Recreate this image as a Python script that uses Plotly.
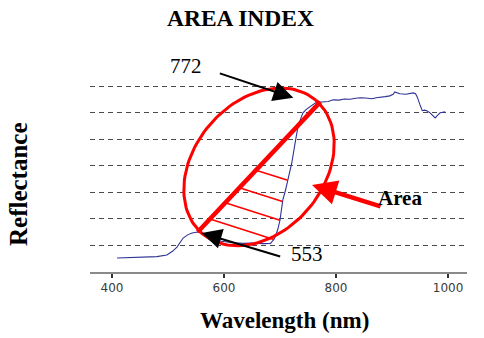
import math
import plotly.graph_objects as go

# Canopy reflectance spectrum (wavelength in nm, reflectance as fraction)
wavelength = [409, 430, 455, 480, 498, 508, 516, 522, 527, 535,
              543, 553, 562, 571, 580, 595, 616, 635, 652, 670,
              683, 690, 696, 700, 705, 710, 714, 721, 727, 732,
              737, 741, 747, 754, 760, 766, 775, 786, 795, 805,
              815, 825, 835, 843, 853, 864, 872, 879, 888, 896,
              902, 905, 909, 914, 925, 933, 938, 942, 945, 950,
              954, 958, 962, 968, 973, 977, 982, 986, 995]
reflectance = [0.053, 0.054, 0.056, 0.058, 0.064, 0.078, 0.094, 0.112, 0.128, 0.140,
               0.147, 0.151, 0.146, 0.135, 0.124, 0.116, 0.110, 0.108, 0.109, 0.107,
               0.108, 0.125, 0.160, 0.196, 0.272, 0.310, 0.347, 0.411, 0.487, 0.547,
               0.578, 0.600, 0.613, 0.623, 0.634, 0.642, 0.641, 0.643, 0.649, 0.648,
               0.652, 0.651, 0.655, 0.657, 0.656, 0.653, 0.657, 0.660, 0.661, 0.664,
               0.670, 0.679, 0.676, 0.672, 0.670, 0.672, 0.675, 0.672, 0.660, 0.630,
               0.608, 0.610, 0.608, 0.600, 0.590, 0.581, 0.592, 0.600, 0.604]

# Wavelengths bounding the area (green peak and red-edge shoulder)
green_peak = 553
red_shoulder = 772

x_ticks = [400, 600, 800, 1000]
grid_levels = [0.1, 0.2, 0.3, 0.4, 0.5, 0.6, 0.7]

# Figure geometry
W, H = 484, 338
ML, MR, MT, MB = 90, 17, 81, 66
X_RANGE = [360.7, 1033.9]
Y_RANGE = [0.0, 0.72]
PW, PH = W - ML - MR, H - MT - MB
XS = PW / (X_RANGE[1] - X_RANGE[0])   # px per nm
YS = PH / (Y_RANGE[1] - Y_RANGE[0])   # px per reflectance unit

RED = "#ff0000"
SERIF = "Liberation Serif"


def interp(x, xs, ys):
    for i in range(len(xs) - 1):
        if xs[i] <= x <= xs[i + 1]:
            f = (x - xs[i]) / (xs[i + 1] - xs[i])
            return ys[i] + f * (ys[i + 1] - ys[i])
    return ys[-1]


def to_px(x, y):
    return (x - X_RANGE[0]) * XS, (y - Y_RANGE[0]) * YS


def from_px(px, py):
    return px / XS + X_RANGE[0], py / YS + Y_RANGE[0]


def paper(xp, yp):
    # screen pixel position -> paper coordinates
    return (xp - ML) / PW, (H - MB - yp) / PH


r_a = interp(green_peak, wavelength, reflectance)
r_b = interp(red_shoulder, wavelength, reflectance)
ax_, ay_ = to_px(green_peak, r_a)
bx_, by_ = to_px(red_shoulder, r_b)

# Ellipse around the chord (pixel space, y up)
cx, cy = (ax_ + bx_) / 2, (ay_ + by_) / 2
semi_a = math.hypot(bx_ - ax_, by_ - ay_) / 2 * 0.98
semi_b = semi_a * 0.74
theta = math.atan2(by_ - ay_, bx_ - ax_) + math.radians(3)
ell_x, ell_y = [], []
for k in range(121):
    t = 2 * math.pi * k / 120
    ex = semi_a * math.cos(t)
    ey = semi_b * math.sin(t)
    px = cx + ex * math.cos(theta) - ey * math.sin(theta)
    py = cy + ex * math.sin(theta) + ey * math.cos(theta)
    dx, dy = from_px(px, py)
    ell_x.append(dx)
    ell_y.append(dy)

# Hatch lines from the chord down to the spectrum
curve_px = [to_px(x, y) for x, y in zip(wavelength, reflectance)]
hatch_x, hatch_y = [], []
for frac in [0.1, 0.225, 0.34, 0.475]:
    sx, sy = ax_ + frac * (bx_ - ax_), ay_ + frac * (by_ - ay_)
    dxr, dyr = 1.0, -0.32
    best = None
    for (x1, y1), (x2, y2) in zip(curve_px[:-1], curve_px[1:]):
        ex, ey = x2 - x1, y2 - y1
        den = dxr * (-ey) - dyr * (-ex)
        if abs(den) < 1e-9:
            continue
        rx, ry = x1 - sx, y1 - sy
        s = (rx * (-ey) - ry * (-ex)) / den
        u = (dxr * ry - dyr * rx) / den
        if s > 1 and 0 <= u <= 1 and (best is None or s < best):
            best = s
    if best is None:
        continue
    p0 = from_px(sx, sy)
    p1 = from_px(sx + best * dxr, sy + best * dyr)
    hatch_x += [p0[0], p1[0], None]
    hatch_y += [p0[1], p1[1], None]

fig = go.Figure()
fig.add_trace(go.Scatter(x=wavelength, y=reflectance, mode="lines",
                         line=dict(color="#2f3296", width=1.1),
                         hoverinfo="skip", showlegend=False))
fig.add_trace(go.Scatter(x=hatch_x, y=hatch_y, mode="lines",
                         line=dict(color=RED, width=1.6),
                         hoverinfo="skip", showlegend=False))
fig.add_trace(go.Scatter(x=ell_x, y=ell_y, mode="lines",
                         line=dict(color=RED, width=3),
                         hoverinfo="skip", showlegend=False))
fig.add_trace(go.Scatter(x=[green_peak, red_shoulder], y=[r_a, r_b], mode="lines",
                         line=dict(color=RED, width=4.5),
                         hoverinfo="skip", showlegend=False))

annotations = []
# Arrow to the red-edge shoulder
annotations.append(dict(x=red_shoulder, y=r_b, xref="x", yref="y", text="",
                        xshift=-27, yshift=4, ax=-75, ay=-25,
                        showarrow=True, arrowhead=2, arrowsize=2, arrowwidth=2,
                        arrowcolor="black"))
# Arrow to the green peak
annotations.append(dict(x=green_peak, y=r_a, xref="x", yref="y", text="",
                        xshift=4, yshift=-1, ax=80, ay=24,
                        showarrow=True, arrowhead=2, arrowsize=2, arrowwidth=2,
                        arrowcolor="black"))
# Arrow pointing at the enclosed area
ecx, ecy = from_px(cx, cy)
annotations.append(dict(x=ecx, y=ecy, xref="x", yref="y", text="",
                        xshift=53, yshift=-18, ax=70, ay=22,
                        showarrow=True, arrowhead=2, arrowsize=1.1, arrowwidth=4.5,
                        arrowcolor=RED))


def label(text, xp, yp, size, bold=False, angle=0):
    px, py = paper(xp, yp)
    annotations.append(dict(x=px, y=py, xref="paper", yref="paper",
                            text=f"<b>{text}</b>" if bold else text,
                            showarrow=False, xanchor="center", yanchor="middle",
                            textangle=angle,
                            font=dict(family=SERIF, size=size, color="black")))


label(str(red_shoulder), 186, 66, 21)
label(str(green_peak), 307, 254, 21)
label("Area", 400, 198, 21, bold=True)
label("Reflectance", 18, 184, 25, bold=True, angle=-90)
label("Wavelength (nm)", 284, 320, 23, bold=True)
label("AREA INDEX", 240, 18, 23.5, bold=True)

fig.update_layout(
    width=W, height=H,
    margin=dict(l=ML, r=MR, t=MT, b=MB, pad=0),
    paper_bgcolor="white", plot_bgcolor="white",
    annotations=annotations,
    xaxis=dict(range=X_RANGE, tickvals=x_ticks, ticks="outside", ticklen=4,
               tickwidth=1.5, tickcolor="#333333", showline=True,
               linecolor="#8a8a8a", linewidth=1.5, showgrid=False, zeroline=False,
               tickfont=dict(family="DejaVu Sans", size=12, color="#3a3a3a")),
    yaxis=dict(range=Y_RANGE, tickvals=grid_levels, showticklabels=False,
               showgrid=True, gridcolor="#4a4a4a", gridwidth=1, griddash="5px,4px",
               zeroline=False, showline=False, ticks=""),
)

fig.write_html("out.html")
